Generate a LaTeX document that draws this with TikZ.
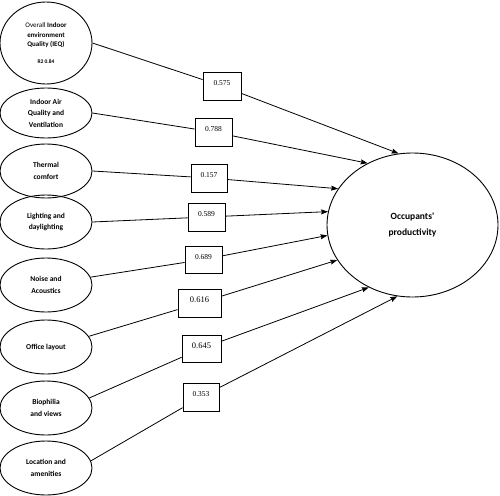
\documentclass[tikz,border=0pt]{standalone}
\usepackage{fontspec}
\usetikzlibrary{arrows.meta,shapes.geometric}
\newfontfamily\labelfont{Carlito}
\newfontfamily\numfont{Liberation Serif}

\begin{document}
\begin{tikzpicture}[x=1pt, y=-1pt,
  factor/.style={ellipse, draw, line width=0.9pt, minimum width=92pt, minimum height=54pt,
    inner sep=0pt, align=center, font=\labelfont\bfseries\fontsize{7.5}{11.5}\selectfont},
  outcome/.style={ellipse, draw, line width=0.9pt, minimum width=171pt, minimum height=144pt,
    inner sep=0pt, align=center, font=\labelfont\bfseries\fontsize{9.5}{16}\selectfont},
  coef/.style={draw, line width=0.8pt, minimum width=37pt, inner sep=0pt,
    text height=13pt, text depth=15pt, font=\numfont\fontsize{7.5}{9}\selectfont},
  link/.style={line width=0.8pt},
  effect/.style={line width=0.8pt, -{Stealth[length=7pt, width=5pt, inset=1pt]}}]
\useasboundingbox (0,0) rectangle (500,495);

\node[factor, minimum height=82pt, font=\labelfont\fontsize{7}{9.5}\selectfont] (IEQ) at (46,43)
  {Overall \textbf{Indoor}\\ \textbf{environment}\\ \textbf{Quality (IEQ)}\\[7pt]
   {\bfseries\fontsize{5.5}{7}\selectfont R2 0.84}};
\node[factor, minimum height=50pt] (IAQ) at (46,113) {Indoor Air\\ Quality and\\ Ventilation};
\node[factor] (Thermal) at (46,171) {Thermal\\ comfort};
\node[factor] (Lighting) at (46,222) {Lighting and\\ daylighting};
\node[factor] (Noise) at (46,285) {Noise and\\ Acoustics};
\node[factor] (Office) at (46,347) {Office layout};
\node[factor] (Biophilia) at (46,408) {Biophilia\\ and views};
\node[factor] (Location) at (46,468) {Location and\\ amenities};

\node[outcome] (Productivity) at (412.5,225) {Occupants'\\ productivity};

\node[coef, minimum width=38pt] (Coef 1) at (222,86) {0.575};
\node[coef] (Coef 2) at (213.5,132) {0.788};
\node[coef, minimum width=36pt] (Coef 3) at (209,178) {0.157};
\node[coef] (Coef 4) at (206.5,217) {0.589};
\node[coef, text depth=14pt] (Coef 5) at (203.5,259.5) {0.689};
\node[coef, minimum width=43pt, font=\numfont\fontsize{8.5}{10}\selectfont] (Coef 6) at (199.5,303) {0.616};
\node[coef, minimum width=39pt, text depth=14pt, font=\numfont\fontsize{8.5}{10}\selectfont] (Coef 7) at (201.5,348.5) {0.645};
\node[coef, minimum width=36pt] (Coef 8) at (201,397) {0.353};

\draw[link] (IEQ.east) -- (Coef 1);
\draw[link] (IAQ.east) -- (Coef 2);
\draw[link] (Thermal.east) -- (Coef 3);
\draw[link] (Lighting.east) -- (Coef 4);
\draw[link] (Noise.10) -- (Coef 5);
\draw[link] (Office.14) -- (Coef 6);
\draw[link] (Biophilia.13) -- (Coef 7);
\draw[link] (Location.9) -- (Coef 8);

\draw[effect] (Coef 1) -- (Productivity.101);
\draw[effect] (Coef 2) -- (Productivity.126);
\draw[effect] (Coef 3) -- (Productivity.154);
\draw[effect] (Coef 4) -- (Productivity.171);
\draw[effect] (Coef 5) -- (Productivity.187);
\draw[effect] (Coef 6) -- (Productivity.205);
\draw[effect] (Coef 7) -- (Productivity.235);
\draw[effect] (Coef 8) -- (Productivity.258);
\end{tikzpicture}
\end{document}
